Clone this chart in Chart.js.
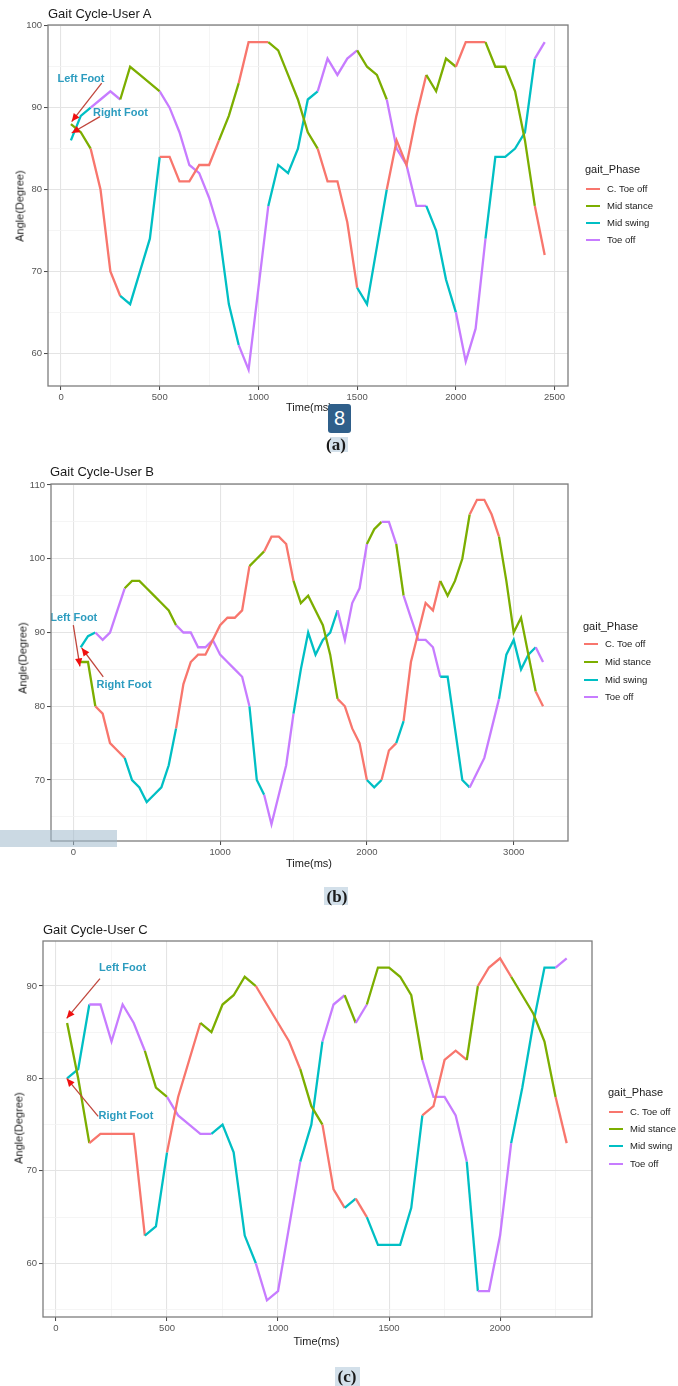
<!DOCTYPE html>
<html>
<head>
<meta charset="utf-8">
<script src="https://cdn.jsdelivr.net/npm/chart.js@4.4.1/dist/chart.umd.min.js"></script>
<style>
  html, body { margin: 0; padding: 0; background: #fff; }
  body { width: 678px; height: 1386px; position: relative; overflow: hidden;
         font-family: "Liberation Sans", Arial, sans-serif; }
  canvas { position: absolute; left: 0; }
  .t { position: absolute; white-space: nowrap; line-height: 1; }
  .sw { position: absolute; height: 2px; }
</style>
</head>
<body>
<script>
// Gait phases and their colours
const phaseNames  = ['C. Toe off', 'Mid stance', 'Mid swing', 'Toe off'];
const phaseColors = ['#F8766D', '#7CAE00', '#00BFC4', '#C77CFF'];
// phase codes: 0 = C. Toe off, 1 = Mid stance, 2 = Mid swing, 3 = Toe off

// ---------- User A ----------
const timeA = [50,100,150,200,250,300,350,400,450,500,550,600,650,700,750,800,850,900,950,1000,
               1050,1100,1150,1200,1250,1300,1350,1400,1450,1500,1550,1600,1650,1700,1750,1800,
               1850,1900,1950,2000,2050,2100,2150,2200,2250,2300,2350,2400,2450];
const leftAngleA  = [88,87,85,80,70,67,66,70,74,84,84,81,81,83,83,86,89,93,98,98,98,97,94,91,87,
                     85,81,81,76,68,66,73,80,86,83,89,94,92,96,95,98,98,98,95,95,92,86,78,72];
const leftPhaseA  = [1,1,0,0,0,2,2,2,2,0,0,0,0,0,0,1,1,0,0,0,1,1,1,1,1,0,0,0,0,2,2,2,0,0,0,0,
                     1,1,1,0,0,0,1,1,1,1,1,0,0];
const rightAngleA = [86,89,90,91,92,91,95,94,93,92,90,87,83,82,79,75,66,61,58,68,78,83,82,85,91,
                     92,96,94,96,97,95,94,91,85,83,78,78,75,69,65,59,63,74,84,84,85,87,96,98];
const rightPhaseA = [2,2,3,3,3,1,1,1,1,3,3,3,3,3,3,2,2,3,3,3,2,2,2,2,2,3,3,3,3,1,1,1,3,3,3,3,
                     2,2,2,3,3,3,2,2,2,2,2,3,3];
const xTicksA = [0,500,1000,1500,2000,2500];
const xMinorA = [250,750,1250,1750,2250];
const yTicksA = [60,70,80,90,100];
const yMinorA = [65,75,85,95];

// ---------- User B ----------
const timeB = [50,100,150,200,250,300,350,400,450,500,550,600,650,700,750,800,850,900,950,1000,
               1050,1100,1150,1200,1250,1300,1350,1400,1450,1500,1550,1600,1650,1700,1750,1800,
               1850,1900,1950,2000,2050,2100,2150,2200,2250,2300,2350,2400,2450,2500,2550,2600,
               2650,2700,2750,2800,2850,2900,2950,3000,3050,3100,3150,3200];
const leftAngleB  = [86,86,80,79,75,74,73,70,69,67,68,69,72,77,83,86,87,87,89,91,92,92,93,99,100,
                     101,103,103,102,97,94,95,93,91,87,81,80,77,75,70,69,70,74,75,78,86,90,94,93,
                     97,95,97,100,106,108,108,106,103,97,90,92,87,82,80];
const leftPhaseB  = [1,1,0,0,0,0,2,2,2,2,2,2,2,0,0,0,0,0,0,0,0,0,0,1,1,0,0,0,0,1,1,1,1,1,1,
                     0,0,0,0,2,2,0,0,2,0,0,0,0,0,1,1,1,1,0,0,0,0,1,1,1,1,1,0,0];
const rightAngleB = [88,89.5,90,89,90,93,96,97,97,96,95,94,93,91,90,90,88,88,89,87,86,85,84,80,70,
                     68,64,68,72,79,85,90,87,89,90,93,89,94,96,102,104,105,105,102,95,92,89,89,88,
                     84,84,77,70,69,71,73,77,81,87,89,85,87,88,86];
const rightPhaseB = [2,2,3,3,3,3,1,1,1,1,1,1,1,3,3,3,3,3,3,3,3,3,3,2,2,3,3,3,3,2,2,2,2,2,2,
                     3,3,3,3,1,1,3,3,1,3,3,3,3,3,2,2,2,2,3,3,3,3,2,2,2,2,2,3,3];
const xTicksB = [0,1000,2000,3000];
const xMinorB = [500,1500,2500];
const yTicksB = [70,80,90,100,110];
const yMinorB = [65,75,85,95,105];

// ---------- User C ----------
const timeC = [50,100,150,200,250,300,350,400,450,500,550,600,650,700,750,800,850,900,950,1000,
               1050,1100,1150,1200,1250,1300,1350,1400,1450,1500,1550,1600,1650,1700,1750,1800,
               1850,1900,1950,2000,2050,2100,2150,2200,2250,2300];
const leftAngleC  = [86,80,73,74,74,74,74,63,64,72,78,82,86,85,88,89,91,90,88,86,84,81,77,75,68,
                     66,67,65,62,62,62,66,76,77,82,83,82,90,92,93,91,89,87,84,78,73];
const leftPhaseC  = [1,1,0,0,0,0,0,2,2,0,0,0,1,1,1,1,1,0,0,0,0,1,1,0,0,2,0,2,2,2,2,2,0,0,0,0,
                     1,0,0,0,1,1,1,1,0,0];
const rightAngleC = [80,81,88,88,84,88,86,83,79,78,76,75,74,74,75,72,63,60,56,57,64,71,75,84,88,
                     89,86,88,92,92,91,89,82,78,78,76,71,57,57,63,73,79,86,92,92,93];
const rightPhaseC = [2,2,3,3,3,3,3,1,1,3,3,3,3,2,2,2,2,3,3,3,3,2,2,3,3,1,3,1,1,1,1,1,3,3,3,3,
                     2,3,3,3,2,2,2,2,3,3];
const xTicksC = [0,500,1000,1500,2000];
const xMinorC = [250,750,1250,1750,2250];
const yTicksC = [60,70,80,90];
const yMinorC = [55,65,75,85];

// ---------- page helpers ----------
function label(text, x, y, css, anchor) {
  const d = document.createElement('div');
  d.className = 't';
  d.textContent = text;
  d.style.left = x + 'px';
  d.style.top = y + 'px';
  let tf = anchor === 'c' ? 'translate(-50%,-50%)' : 'translate(0,-50%)';
  if (anchor === 'r90') tf = 'translate(-50%,-50%) rotate(-90deg)';
  d.style.transform = tf;
  Object.assign(d.style, css || {});
  document.body.appendChild(d);
  return d;
}

function legend(x, y, rowYs) {
  label('gait_Phase', x, y, { fontSize: '11px', color: '#1a1a1a' }, 'l');
  phaseNames.forEach((name, i) => {
    const s = document.createElement('div');
    s.className = 'sw';
    s.style.left = (x + 1) + 'px';
    s.style.top = (rowYs[i] - 1) + 'px';
    s.style.width = '14px';
    s.style.background = phaseColors[i];
    document.body.appendChild(s);
    label(name, x + 22, rowYs[i], { fontSize: '9.5px', color: '#1a1a1a' }, 'l');
  });
}

// arrows and foot labels, placed in data units
function notesPlugin(notes) {
  return {
    id: 'footNotes',
    afterDatasetsDraw(chart) {
      const { ctx, chartArea: a, scales: { x, y } } = chart;
      ctx.save();
      ctx.beginPath();
      ctx.rect(a.left, a.top, a.right - a.left, a.bottom - a.top);
      ctx.clip();
      notes.arrows.forEach(ar => {
        const x0 = x.getPixelForValue(ar.x0), y0 = y.getPixelForValue(ar.y0);
        const x1 = x.getPixelForValue(ar.x1), y1 = y.getPixelForValue(ar.y1);
        ctx.strokeStyle = '#c0463c';
        ctx.lineWidth = 1.3;
        ctx.beginPath(); ctx.moveTo(x0, y0); ctx.lineTo(x1, y1); ctx.stroke();
        const ang = Math.atan2(y1 - y0, x1 - x0), len = 8, half = 3.6;
        const bx = x1 - len * Math.cos(ang), by = y1 - len * Math.sin(ang);
        ctx.fillStyle = '#f01010';
        ctx.beginPath();
        ctx.moveTo(x1, y1);
        ctx.lineTo(bx + half * Math.sin(ang), by - half * Math.cos(ang));
        ctx.lineTo(bx - half * Math.sin(ang), by + half * Math.cos(ang));
        ctx.closePath(); ctx.fill();
      });
      ctx.font = 'bold 11px "Liberation Sans", Arial, sans-serif';
      ctx.fillStyle = '#2c9cbf';
      ctx.textAlign = 'center';
      ctx.textBaseline = 'middle';
      notes.texts.forEach(t => {
        ctx.fillText(t.text, x.getPixelForValue(t.x), y.getPixelForValue(t.y));
      });
      ctx.restore();
      // panel frame
      ctx.save();
      ctx.strokeStyle = '#7d7d7d';
      ctx.lineWidth = 1.3;
      ctx.strokeRect(a.left, a.top, a.right - a.left, a.bottom - a.top);
      ctx.restore();
    }
  };
}

function footDataset(times, angles, phases) {
  return {
    data: times.map((t, i) => ({ x: t, y: angles[i] })),
    borderWidth: 2.3,
    pointRadius: 0,
    tension: 0,
    fill: false,
    borderColor: phaseColors[phases[0]],
    segment: { borderColor: c => phaseColors[phases[c.p0DataIndex]] }
  };
}

function axis(major, minor, min, max, pos, afterFit) {
  const all = major.concat(minor).sort((a, b) => a - b);
  return {
    type: 'linear', position: pos, min, max,
    afterBuildTicks: s => { s.ticks = all.map(v => ({ value: v })); },
    afterFit,
    border: { display: false },
    grid: {
      color: c => minor.includes(c.tick.value) ? '#f2f2f2' : '#e4e4e4',
      lineWidth: c => minor.includes(c.tick.value) ? 0.8 : 1.1,
      tickColor: c => minor.includes(c.tick.value) ? 'rgba(0,0,0,0)' : '#444',
      tickLength: 4,
      tickWidth: 1
    },
    ticks: {
      autoSkip: false, maxRotation: 0, padding: 2,
      color: '#555', font: { size: 9.5, family: '"Liberation Sans", Arial, sans-serif' },
      callback: v => major.includes(v) ? String(v) : ''
    }
  };
}

function panel(p) {
  const cv = document.createElement('canvas');
  cv.width = 678; cv.height = p.h;
  cv.style.top = p.top + 'px';
  cv.style.width = '678px'; cv.style.height = p.h + 'px';
  document.body.appendChild(cv);
  new Chart(cv, {
    type: 'line',
    data: { datasets: [
      footDataset(p.time, p.leftAngle, p.leftPhase),
      footDataset(p.time, p.rightAngle, p.rightPhase)
    ] },
    options: {
      responsive: false, animation: false, devicePixelRatio: 1,
      layout: { padding: { top: p.padTop, right: p.padRight, left: 0, bottom: 0 } },
      plugins: { legend: { display: false }, tooltip: { enabled: false } },
      scales: {
        x: axis(p.xMajor, p.xMinor, p.xMin, p.xMax, 'bottom', s => { s.height = p.xH; }),
        y: axis(p.yMajor, p.yMinor, p.yMin, p.yMax, 'left', s => { s.width = p.yW; })
      }
    },
    plugins: [notesPlugin(p.notes)]
  });
}

// ---------- panel A ----------
panel({ top: 0, h: 420, padTop: 25, padRight: 110, yW: 48, xH: 34,
  time: timeA, leftAngle: leftAngleA, leftPhase: leftPhaseA,
  rightAngle: rightAngleA, rightPhase: rightPhaseA,
  xMajor: xTicksA, xMinor: xMinorA, yMajor: yTicksA, yMinor: yMinorA,
  xMin: -66, xMax: 2568, yMin: 56, yMax: 100.1,
  notes: {
    texts: [{ text: 'Left Foot', x: 101, y: 93.5 }, { text: 'Right Foot', x: 301, y: 89.35 }],
    arrows: [{ x0: 206, y0: 93.0, x1: 54, y1: 88.3 }, { x0: 197, y0: 88.9, x1: 54, y1: 86.9 }]
  } });
label('Gait Cycle-User A', 48, 13, { fontSize: '13px', color: '#1a1a1a' }, 'l');
label('Angle(Degree)', 19.5, 206, { fontSize: '11px', color: '#1a1a1a' }, 'r90');
label('Time(ms)', 309, 407, { fontSize: '11px', color: '#1a1a1a' }, 'c');
legend(585, 169, [189, 206, 223, 240]);

// ---------- panel B ----------
panel({ top: 455, h: 410, padTop: 29, padRight: 110, yW: 51, xH: 24,
  time: timeB, leftAngle: leftAngleB, leftPhase: leftPhaseB,
  rightAngle: rightAngleB, rightPhase: rightPhaseB,
  xMajor: xTicksB, xMinor: xMinorB, yMajor: yTicksB, yMinor: yMinorB,
  xMin: -152, xMax: 3370, yMin: 61.73, yMax: 110.14,
  notes: {
    texts: [{ text: 'Left Foot', x: 3, y: 92.0 }, { text: 'Right Foot', x: 346, y: 82.9 }],
    arrows: [{ x0: 0, y0: 91, x1: 45, y1: 85.4 }, { x0: 204, y0: 84, x1: 57, y1: 87.9 }]
  } });
label('Gait Cycle-User B', 50, 470.5, { fontSize: '13px', color: '#1a1a1a' }, 'l');
label('Angle(Degree)', 22.5, 658, { fontSize: '11px', color: '#1a1a1a' }, 'r90');
label('Time(ms)', 309, 862.5, { fontSize: '11px', color: '#1a1a1a' }, 'c');
legend(583, 626, [644, 662, 680, 697]);

// ---------- panel C ----------
panel({ top: 915, h: 430, padTop: 26, padRight: 86, yW: 43, xH: 28,
  time: timeC, leftAngle: leftAngleC, leftPhase: leftPhaseC,
  rightAngle: rightAngleC, rightPhase: rightPhaseC,
  xMajor: xTicksC, xMinor: xMinorC, yMajor: yTicksC, yMinor: yMinorC,
  xMin: -58.6, xMax: 2414, yMin: 54.19, yMax: 94.87,
  notes: {
    texts: [{ text: 'Left Foot', x: 300, y: 91.9 }, { text: 'Right Foot', x: 315, y: 75.9 }],
    arrows: [{ x0: 198, y0: 90.8, x1: 48, y1: 86.5 }, { x0: 190, y0: 75.9, x1: 48, y1: 80 }]
  } });
label('Gait Cycle-User C', 43, 928.5, { fontSize: '13px', color: '#1a1a1a' }, 'l');
label('Angle(Degree)', 18.5, 1128, { fontSize: '11px', color: '#1a1a1a' }, 'r90');
label('Time(ms)', 316.5, 1340.5, { fontSize: '11px', color: '#1a1a1a' }, 'c');
legend(608, 1092, [1112, 1129, 1146, 1164]);

// ---------- sub-figure captions and page marks ----------
function box(x, y, w, h, css) {
  const d = document.createElement('div');
  d.style.position = 'absolute';
  d.style.left = x + 'px'; d.style.top = y + 'px';
  d.style.width = w + 'px'; d.style.height = h + 'px';
  Object.assign(d.style, css);
  document.body.appendChild(d);
  return d;
}
const serif = { fontFamily: '"Liberation Serif", "DejaVu Serif", serif', fontWeight: 'bold',
                fontSize: '17px', color: '#1a1a1a' };
box(330, 437, 18, 15, { background: '#d3e0ea' });
label('(a)', 336, 444, serif, 'c');
const badge = box(328, 404, 23, 29, { background: '#2f5f8a', borderRadius: '3px',
  color: '#fff', fontSize: '20px', textAlign: 'center', lineHeight: '29px',
  fontFamily: '"Liberation Sans", Arial, sans-serif' });
badge.textContent = '8';
box(0, 830, 117, 17, { background: 'rgba(160,185,204,0.55)' });
box(324, 887, 24, 18, { background: '#d3e0ea' });
label('(b)', 337, 896, serif, 'c');
box(335, 1367, 25, 19, { background: '#d3e0ea' });
label('(c)', 347, 1376, serif, 'c');
</script>
</body>
</html>
